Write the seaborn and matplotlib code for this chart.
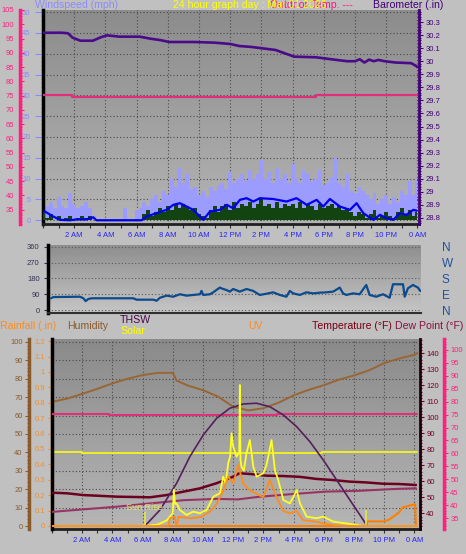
import numpy as np
import seaborn as sns
import matplotlib.pyplot as plt
from matplotlib.ticker import MultipleLocator, FixedLocator, FuncFormatter
from matplotlib.colors import LinearSegmentedColormap

# ---------------- data ----------------
hour_ticks = [2, 4, 6, 8, 10, 12, 14, 16, 18, 20, 22, 24]
hour_labels = ['2 AM', '4 AM', '6 AM', '8 AM', '10 AM', '12 PM',
               '2 PM', '4 PM', '6 PM', '8 PM', '10 PM', '0 AM']

# wind, sampled every 15 minutes (mph)
wind_t = np.arange(0, 24.01, 0.25)
gust = [4.5, 3.5, 4.5, 3, 5.5, 3.5, 3, 6.5, 4, 3, 3.5, 4.5, 3, 1, 0, 0,
        0, 0, 0, 0, 0, 3, 0, 0, 2.5, 3, 4.5, 3.5, 5, 6, 4.5, 7,
        6, 10, 8, 12.5, 9, 11, 7.5, 8, 6, 7, 5.5, 8, 7, 8.5, 9, 7.5,
        11.5, 9, 10, 11, 9.5, 12, 10, 11, 14.5, 10, 11.5, 9, 12.5, 10, 11, 9,
        13.5, 10.5, 9, 12, 11, 9.5, 10, 12, 8.5, 9, 10.5, 15, 9, 8, 11, 7,
        6.5, 8, 7, 6, 5, 6.5, 4, 5, 6, 4, 5.5, 4.5, 7, 6, 9.5, 6, 10]
wind_now = [2, 0.5, 1.5, 0, 1, 0, 0.5, 1, 0, 0.5, 1, 0.5, 1, 0, 0, 0,
            0, 0, 0, 0, 0, 0, 0, 0, 0, 0, 1.5, 2.5, 1, 2, 3, 2,
            3.5, 2.5, 4, 3, 4, 3.5, 2.5, 3, 1.5, 1, 0.5, 2.5, 3.5, 2, 3.5, 4,
            2.5, 4.5, 3, 4, 3.5, 4.5, 3, 4, 5, 3.5, 4, 3, 4.5, 3, 4, 3.5,
            4, 3, 4.5, 3, 4, 3.5, 2.5, 4, 3, 3.5, 4, 3, 3.5, 2.5, 3, 2,
            1, 2, 1.5, 0.5, 1.5, 2.5, 0.5, 1, 2, 1, 0.5, 2, 3, 1.5, 2.5, 1, 2]
avg_t = [0, 0.12, 0.66, 1.08, 1.72, 2.15, 2.79, 3.22, 3.43, 6.32, 6.64, 7.28,
         7.92, 8.35, 8.78, 9.2, 9.63, 10.27, 10.7, 11.34, 11.77, 12.19, 12.62,
         13.05, 13.48, 13.9, 14.76, 15.61, 16.25, 16.9, 17.54, 17.96, 18.39,
         19.03, 19.67, 20.1, 20.53, 21.17, 21.6, 22.02, 22.45, 22.88, 23.3,
         23.73, 23.95]
avg_v = [2.0, 2.1, 0.9, 0.1, 0, 0.2, 0.2, 0.7, 0, 0, 0.9, 1.7,
         2.5, 3.7, 4.1, 3.3, 2.5, 0.1, 2.1, 2.5, 3.7, 2.9, 4.9,
         5.3, 4.5, 5.3, 5.1, 4.5, 5.3, 3.7, 4.9, 3.3, 5.1,
         3.3, 2.5, 4.1, 1.7, 0.1, 1.3, 0.5, 0.1, 1.7, 1.3,
         2.5, 2.3]

baro_t = [0, 1.2, 1.6, 1.9, 2.4, 3.2, 3.7, 4.1, 4.9, 6.2, 6.9, 7.5, 8.1, 9.7,
          11.0, 12.0, 12.6, 13.3, 14.9, 16.1, 17.5, 18.8, 19.5, 20.0, 20.3,
          20.6, 20.9, 21.2, 21.5, 21.9, 22.6, 23.6, 23.9, 24.0]
baro_v = [30.218, 30.218, 30.214, 30.18, 30.157, 30.157, 30.183, 30.198,
          30.188, 30.188, 30.172, 30.162, 30.147, 30.147, 30.142, 30.132,
          30.116, 30.11, 30.086, 30.035, 30.03, 30.01, 30.0, 30.0, 30.015,
          29.99, 30.012, 30.0, 30.01, 30.0, 29.99, 29.985, 29.965, 29.955]

out_temp_t = [0, 1.85, 17.5, 24.0]
out_temp_v = [75.2, 74.6, 75.2, 75.2]

# wind direction (degrees)
dir_t = [0, 0.15, 1.88, 2.1, 2.25, 2.42, 2.64, 5.35, 5.56, 6.64, 6.86, 7.08,
         7.51, 7.94, 8.38, 8.81, 9.24, 9.68, 9.78, 9.89, 10.33, 10.54, 10.97,
         11.19, 11.41, 11.62, 11.84, 12.27, 12.71, 13.14, 13.57, 14.0, 14.44,
         14.87, 15.3, 15.52, 15.74, 16.17, 16.6, 17.04, 17.47, 17.9, 18.34,
         18.77, 18.98, 19.2, 19.63, 20.06, 20.49, 20.71, 21.14, 21.58, 22.01,
         22.23, 22.88, 22.99, 23.2, 23.53, 23.85, 24.0]
dir_v = [67, 74, 76, 67, 51, 63, 67, 67, 59, 59, 53, 70,
         82, 76, 90, 82, 86, 90, 109, 86, 90, 101, 128,
         120, 114, 105, 120, 105, 120, 109, 86, 93, 101,
         86, 76, 109, 95, 86, 101, 95, 99, 101, 105,
         128, 95, 86, 95, 90, 143, 86, 76, 90, 70,
         147, 147, 76, 124, 143, 128, 109]

# bottom panel
hum_t = [0, 1, 2, 3, 4, 5, 6, 7, 8, 8.25, 9, 10, 11, 12, 13, 14, 15, 16, 17,
         18, 19, 20, 21, 22, 23, 24, 24.2]
hum_v = [67.5, 69.2, 71.8, 74.5, 77.5, 80, 82, 83.2, 83.2, 79, 76.3, 73.8,
         70.3, 64.8, 62.8, 64, 67, 71, 74, 76.5, 79.5, 81.8, 84.6, 88.5, 91,
         93, 94]
in_hum_t = [0, 1.96, 17.85, 24.2]
in_hum_v = [40.4, 39.5, 40.4, 40.4]
in_temp_t = [0, 3.8, 14.9, 24.2]
in_temp_v = [75.3, 74.7, 75.3, 75.3]

temp_t = [0, 1, 2.07, 3, 4.28, 5.5, 6.48, 7.59, 8.69, 9.8, 10.9, 12.0, 12.4,
          13.1, 14.2, 15.3, 16.4, 17.5, 18.6, 19.7, 20.8, 21.9, 23.0, 24.1]
temp_v = [52.9, 52.5, 51.4, 51.0, 50.4, 50.2, 50.0, 51.4, 53.5, 55.6, 58.8,
          62.9, 65.0, 64.6, 63.5, 63.3, 62.8, 61.5, 60.8, 59.8, 59.3, 58.5,
          58.3, 57.7]
dew_t = [0, 4.3, 8.7, 10.9, 12.3, 13.7, 16.0, 18.1, 20.3, 22.6, 24.1]
dew_v = [37.5, 39.5, 42, 42.5, 42.3, 43.3, 44.4, 45.3, 45.6, 46.3, 46.6]

arc_t = [6.15, 7.15, 8.25, 9.13, 10.02, 10.9, 11.78, 12.66, 13.55, 14.43,
         15.32, 16.2, 17.08, 17.96, 18.85, 19.73, 20.61, 20.83]
arc_v = [0, 87, 232, 377, 495, 585, 640, 663, 667, 648, 603, 540, 458, 359,
         250, 141, 33, 5]

sol_t = [0, 6.15, 7.0, 7.59, 7.81, 8.0, 8.07, 8.15, 8.25, 8.47, 8.91, 9.35,
         9.79, 10.24, 10.68, 11.12, 11.34, 11.5, 11.67, 11.8, 11.89, 12.0,
         12.22, 12.4, 12.44, 12.48, 12.55, 12.7, 12.88, 13.1, 13.33, 13.55,
         13.99, 14.2, 14.32, 14.54, 14.76, 14.98, 15.32, 15.75, 16.0, 16.2,
         16.42, 16.86, 17.52, 17.96, 18.62, 19.73, 20.61, 24.2]
sol_v = [0, 0, 8, 30, 51, 70, 196, 120, 123, 87, 60, 78,
         69, 87, 159, 178, 268, 230, 341, 380, 504, 431,
         377, 400, 766, 360, 322, 300, 395, 467, 322, 268,
         286, 330, 377, 467, 304, 250, 141, 123, 160, 196,
         123, 51, 42, 51, 24, 11, 0, 0]

uv_t = [0, 7.7, 7.81, 8.14, 8.2, 8.3, 8.36, 9.2, 9.9, 10.5, 10.9, 11.34,
        11.67, 12.0, 12.33, 12.66, 13.1, 13.55, 13.99, 14.43, 14.87, 15.32,
        15.75, 16.2, 16.64, 17.52, 17.96, 18.6, 19.3, 24.2]
uv_v = [0, 0, 0.67, 0.8, 0.2, 0.2, 0.8, 0.67, 0.8, 1.3, 1.9, 3.1,
        4.3, 3.7, 5.3, 3.7, 3.1, 2.8, 2.5, 4.0, 2.5, 1.3,
        1.1, 1.3, 0.5, 0.38, 0.23, 0.09, 0, 0]

rain_t = [0, 20.8, 20.9, 22.0, 22.3, 22.6, 23.0, 23.2, 23.97, 24.05, 24.1]
rain_v = [0, 0, 0.03, 0.03, 0.04, 0.06, 0.09, 0.12, 0.14, 0.14, 0]

sunrise, sunset = 6.15, 20.78

# ---------------- drawing ----------------
sns.set_theme(style="ticks")
plt.rcParams['font.family'] = ['Liberation Sans', 'DejaVu Sans']

W, H = 466, 554
fig = plt.figure(figsize=(W / 100, H / 100), dpi=100, facecolor='#c0c0c0')

TICK_FS = 5.5
HEAD_FS = 7.6
GRID = dict(color='#4a4a4a', linestyle=(0, (1, 2)), linewidth=0.8)


def rect(l, t, r, b):
    return [l / W, 1 - b / H, (r - l) / W, (b - t) / H]


def shade(ax, top, bottom):
    cmap = LinearSegmentedColormap.from_list('bg', [bottom, top])
    grad = np.linspace(0, 1, 256).reshape(-1, 1)
    ax.imshow(grad, extent=(0, 1, 0, 1), transform=ax.transAxes, origin='lower',
              aspect='auto', cmap=cmap, zorder=0)


def hour_axis(ax, xlim, labels=True):
    ax.xaxis.set_major_locator(FixedLocator(hour_ticks))
    ax.xaxis.set_minor_locator(MultipleLocator(1))
    ax.set_xticklabels(hour_labels if labels else [''] * len(hour_ticks))
    ax.tick_params(axis='x', which='both', direction='out', color='#303030',
                   labelcolor='#2424ff', labelsize=TICK_FS, length=3, width=0.8, pad=3)
    ax.set_xlim(*xlim)


def fmt(v, p):
    return f'{round(v, 2):g}'


def side_axis(parent, side, pos, color, lim, major, minor, direction, spine_lw=2.5,
              labelcolor=None, pad=2, length=3):
    a = parent.twinx()
    for s in a.spines.values():
        s.set_visible(False)
    a.spines[side].set_visible(True)
    a.spines[side].set_position(('axes', pos))
    a.spines[side].set_color(color)
    a.spines[side].set_linewidth(spine_lw)
    if side == 'left':
        a.yaxis.set_ticks_position('left')
    else:
        a.yaxis.set_ticks_position('right')
    a.set_ylim(*lim)
    a.yaxis.set_major_locator(MultipleLocator(major))
    a.yaxis.set_minor_locator(MultipleLocator(minor))
    a.yaxis.set_major_formatter(FuncFormatter(fmt))
    a.tick_params(axis='y', which='both', direction=direction, color=color,
                  labelcolor=labelcolor or color, labelsize=TICK_FS, pad=pad, width=0.8)
    a.tick_params(axis='y', which='major', length=length)
    a.tick_params(axis='y', which='minor', length=length * 0.6)
    return a


# ---------- top panel: wind / barometer ----------
ax1 = fig.add_axes(rect(43, 10, 419, 224))
shade(ax1, '#8c8c8c', '#b4b4b4')
ax1.set_axisbelow(True)
ax1.fill_between(wind_t, 0, gust, step='mid', color='#9c9cff', lw=0, zorder=2)
ax1.fill_between(wind_t, 0, wind_now, step='mid', color='#114411', lw=0, zorder=3)
sns.lineplot(x=avg_t, y=avg_v, ax=ax1, color='#0000ee', linewidth=1.6, zorder=4)
ax1.set_ylim(-0.9, 50.5)
ax1.yaxis.set_major_locator(MultipleLocator(5))
ax1.yaxis.set_minor_locator(MultipleLocator(1))
ax1.tick_params(axis='y', which='both', direction='out', color='#8a8aff',
                labelcolor='#8a8aff', labelsize=TICK_FS, pad=3, width=0.8)
ax1.tick_params(axis='y', which='minor', length=1.8)
ax1.grid(True, axis='both', which='major', **GRID)
for s in ['top', 'right']:
    ax1.spines[s].set_visible(False)
ax1.spines['left'].set_color('black')
ax1.spines['left'].set_linewidth(2.5)
ax1.spines['bottom'].set_color('#202020')
ax1.spines['bottom'].set_linewidth(2)
hour_axis(ax1, (0, 24.1))
ax1.set_xlabel('')
ax1.set_ylabel('')

axp = side_axis(ax1, 'left', (20 - 43) / 376, '#ff1f7f', (30, 105), 5, 1, 'in', pad=4)
sns.lineplot(x=out_temp_t, y=out_temp_v, ax=axp, color='#e0307a', linewidth=1.6,
             drawstyle='steps-post')
axp.set_ylim(30, 105)
axp.set_yticks(range(35, 106, 5))

axb = side_axis(ax1, 'right', 1.0, '#440077', (28.754, 30.392), 0.1, 0.02, 'out',
                spine_lw=2)
sns.lineplot(x=baro_t, y=baro_v, ax=axb, color='#4a0a8a', linewidth=1.9)
axb.set_ylim(28.754, 30.392)
axb.set_xlim(0, 24.1)
for a in (axp, axb):
    a.set_xlabel('')
    a.set_ylabel('')

fig.text(35 / W, 1 - 5.5 / H, 'Windspeed (mph)', color='#8a8aff', fontsize=HEAD_FS, va='center')
fig.text(270 / W, 1 - 5.5 / H, 'Outdoor Temp. ---', color='#ff1480', fontsize=HEAD_FS, va='center')
fig.text(173 / W, 1 - 5.5 / H, '24 hour graph day : Mar 01 2026', color='#ffff00',
         fontsize=HEAD_FS, va='center')
fig.text(373 / W, 1 - 5.5 / H, 'Barometer (.in)', color='#440077', fontsize=HEAD_FS, va='center')

# ---------- middle panel: wind direction ----------
ax2 = fig.add_axes(rect(48, 245, 421, 313))
shade(ax2, '#8e8e8e', '#c6c6c6')
ax2.set_axisbelow(True)
sns.lineplot(x=dir_t, y=dir_v, ax=ax2, color='#0b4a8c', linewidth=1.6, zorder=3)
ax2.set_ylim(-17, 371)
ax2.yaxis.set_major_locator(FixedLocator([0, 90, 180, 270, 360]))
ax2.tick_params(axis='y', which='major', direction='out', color='#333355',
                labelcolor='#333355', labelsize=TICK_FS, pad=3, length=3, width=0.8)
ax2.grid(True, axis='y', which='major', color='#5a5a5a', linestyle=(0, (1, 2)), linewidth=0.8)
ax2.set_xlim(-0.2, 24.05)
ax2.set_xticks([])
for s in ['top', 'right']:
    ax2.spines[s].set_visible(False)
ax2.spines['left'].set_color('black')
ax2.spines['left'].set_linewidth(2.5)
ax2.spines['bottom'].set_color('#303030')
ax2.spines['bottom'].set_linewidth(1.5)
ax2.set_xlabel('')
ax2.set_ylabel('')

axc = ax2.twinx()
for s in axc.spines.values():
    s.set_visible(False)
axc.set_ylim(-17, 371)
axc.set_yticks([0, 90, 180, 270, 360])
axc.set_yticklabels(['N', 'E', 'S', 'W', 'N'])
axc.tick_params(axis='y', length=0, pad=15, labelsize=8.5, labelcolor='#1f50a0')

# ---------- bottom panel ----------
ax3 = fig.add_axes(rect(52, 339, 420, 529))
shade(ax3, '#8a8a8a', '#b6b6b6')
ax3.set_axisbelow(True)
sns.lineplot(x=hum_t, y=hum_v, ax=ax3, color='#996633', linewidth=1.4, zorder=3)
sns.lineplot(x=in_hum_t, y=in_hum_v, ax=ax3, color='#f0f020', linewidth=1.4,
             drawstyle='steps-post', zorder=3)
ax3.set_ylim(-1.6, 101.6)
ax3.yaxis.set_major_locator(MultipleLocator(10))
ax3.yaxis.set_minor_locator(MultipleLocator(2))
ax3.yaxis.set_major_formatter(FuncFormatter(fmt))
ax3.grid(True, axis='both', which='major', **GRID)
for s in ['top', 'right']:
    ax3.spines[s].set_visible(False)
ax3.spines['left'].set_position(('axes', (29 - 52) / 368))
ax3.spines['left'].set_color('#8b5a2b')
ax3.spines['left'].set_linewidth(2.5)
ax3.tick_params(axis='y', which='both', direction='out', color='#8b5a2b',
                labelcolor='#8b5a2b', labelsize=TICK_FS, pad=1.5, width=0.8)
ax3.tick_params(axis='y', which='major', length=3)
ax3.tick_params(axis='y', which='minor', length=1.8)
ax3.spines['bottom'].set_color('#202020')
ax3.spines['bottom'].set_linewidth(2)
hour_axis(ax3, (0, 24.37))
ax3.set_xlabel('')
ax3.set_ylabel('')

axr = side_axis(ax3, 'left', 0.0, 'black', (-0.0195, 1.214), 0.1, 0.02, 'out',
                labelcolor='#ff8c1a', pad=2)
axr.tick_params(axis='y', which='both', color='#ff8c1a')
sns.lineplot(x=rain_t, y=rain_v, ax=axr, color='#ff8000', linewidth=1.5)
axr.set_ylim(-0.0195, 1.214)

axt = side_axis(ax3, 'right', 1.0, '#1a0008', (30.2, 148.9), 10, 2, 'out',
                spine_lw=2, labelcolor='#770022', pad=1.5)
axt.tick_params(axis='y', which='both', color='#770022')
sns.lineplot(x=temp_t, y=temp_v, ax=axt, color='#6b0020', linewidth=1.8)
axt.set_ylim(30.2, 148.9)
axt.set_yticks(range(40, 141, 10))

axd = side_axis(ax3, 'right', (444 - 52) / 368, '#ff2080', (30.9, 104.1), 5, 1, 'out',
                pad=1.5)
sns.lineplot(x=in_temp_t, y=in_temp_v, ax=axd, color='#e0307a', linewidth=1.5,
             drawstyle='steps-post')
sns.lineplot(x=dew_t, y=dew_v, ax=axd, color='#993366', linewidth=1.5)
axd.set_ylim(30.9, 104.1)
axd.set_yticks(range(35, 101, 5))

axs = ax3.twinx()
axs.axis('off')
sns.lineplot(x=arc_t, y=arc_v, ax=axs, color='#55205a', linewidth=1.2)
sns.lineplot(x=sol_t, y=sol_v, ax=axs, color='#ffff22', linewidth=1.3)
axs.vlines([sunrise, sunset], 0, [78, 87], color='#e8e840', linewidth=1.2)
axs.text(sunrise - 1.25, 100, 'Sun Rise', color='#e8e070', fontsize=6.5, va='center')
axs.set_ylim(-16.3, 1016)

axu = ax3.twinx()
axu.axis('off')
sns.lineplot(x=uv_t, y=uv_v, ax=axu, color='#ff8c1a', linewidth=1.3)
axu.set_ylim(-0.26, 16.26)

for a in (axr, axt, axd, axs, axu):
    a.set_xlim(0, 24.37)
    a.set_xlabel('')
    a.set_ylabel('')

hy = 1 - 326 / H
fig.text(0, hy, 'Rainfall (.in)', color='#ff8c1a', fontsize=HEAD_FS, va='center')
fig.text(67 / W, hy, 'Humidity', color='#8b5a2b', fontsize=HEAD_FS, va='center')
fig.text(120 / W, 1 - 320 / H, 'THSW', color='#4a0a4a', fontsize=HEAD_FS, va='center')
fig.text(120 / W, 1 - 331 / H, 'Solar', color='#ffff00', fontsize=HEAD_FS, va='center')
fig.text(248 / W, hy, 'UV', color='#ff8c1a', fontsize=HEAD_FS, va='center')
fig.text(312 / W, hy, 'Temperature (\u00b0F)', color='#7a0015', fontsize=HEAD_FS, va='center')
fig.text(395 / W, hy, 'Dew Point (\u00b0F)', color='#8b1040', fontsize=HEAD_FS, va='center')

fig.savefig('out.png', dpi=100, facecolor=fig.get_facecolor())
